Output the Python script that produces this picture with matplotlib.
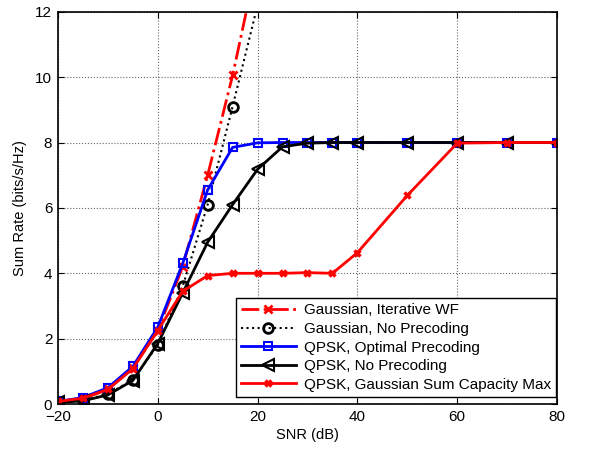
import matplotlib
matplotlib.use("Agg")
import matplotlib.pyplot as plt

plt.rcParams['font.family'] = ['Liberation Sans', 'DejaVu Sans']

snr_gauss = [-20, -15, -10, -5, 0, 5, 10, 15, 20]
wf_rate = [0.07, 0.17, 0.45, 1.1, 2.25, 4.2, 7.0, 10.05, 13.6]
noprec_gauss_rate = [0.05, 0.12, 0.3, 0.75, 1.8, 3.6, 6.1, 9.1, 12.2]

snr_qpsk = [-20, -15, -10, -5, 0, 5, 10, 15, 20, 25, 30, 35, 40, 50, 60, 70, 80]
qpsk_opt = [0.08, 0.2, 0.5, 1.15, 2.35, 4.3, 6.55, 7.85, 7.99, 8.0, 8.0, 8.0, 8.0, 8.0, 8.0, 8.0, 8.0]
qpsk_noprec = [0.05, 0.1, 0.28, 0.72, 1.85, 3.4, 4.95, 6.1, 7.18, 7.87, 7.98, 8.0, 8.0, 8.0, 8.0, 8.0, 8.0]
qpsk_gscm = [0.08, 0.18, 0.45, 1.08, 2.25, 3.45, 3.93, 4.0, 4.0, 4.0, 4.02, 4.0, 4.63, 6.38, 7.98, 8.0, 8.0]

labels = ["Gaussian, Iterative WF", "Gaussian, No Precoding", "QPSK, Optimal Precoding",
          "QPSK, No Precoding", "QPSK, Gaussian Sum Capacity Max"]

xticks = [-20, 0, 20, 40, 60, 80]
yticks = [0, 2, 4, 6, 8, 10, 12]

fig = plt.figure(figsize=(5.91, 4.5), dpi=100)
ax = fig.add_axes([0.098, 0.102, 0.8445, 0.872])

ax.plot(snr_gauss, wf_rate, color='red', ls='-.', lw=2, marker='x', ms=6, mew=2, label=labels[0])
ax.plot(snr_gauss, noprec_gauss_rate, color='black', ls=':', lw=1.5, marker='o', ms=7, mew=2,
        mfc='none', label=labels[1])
ax.plot(snr_qpsk, qpsk_opt, color='blue', ls='-', lw=2, marker='s', ms=6, mew=1.5, mfc='none',
        label=labels[2])
ax.plot(snr_qpsk, qpsk_noprec, color='black', ls='-', lw=2, marker='<', ms=9, mew=1.5, mfc='none',
        label=labels[3])
ax.plot(snr_qpsk, qpsk_gscm, color='red', ls='-', lw=2, marker='x', ms=5, mew=2.5, label=labels[4])

ax.set_xlim(-20, 80)
ax.set_ylim(0, 12)
ax.set_xticks(xticks)
ax.set_yticks(yticks)
ax.grid(True, ls=':', color='#666666', lw=0.8)
ax.tick_params(direction='in', top=True, right=True, labelsize=11, length=4, pad=4)
for s in ax.spines.values():
    s.set_linewidth(1.2)
ax.set_xlabel("SNR (dB)", fontsize=10.5, labelpad=3)
ax.set_ylabel("Sum Rate (bits/s/Hz)", fontsize=10.5, labelpad=6)

leg = ax.legend(loc='lower right', bbox_to_anchor=(0.998, 0.018), fontsize=11, frameon=True,
                fancybox=False, edgecolor='black', framealpha=1, handlelength=3.6,
                borderpad=0.35, labelspacing=0.3, handletextpad=0.5, borderaxespad=0)
leg.get_frame().set_linewidth(1.0)

fig.savefig("out.png", dpi=100)
